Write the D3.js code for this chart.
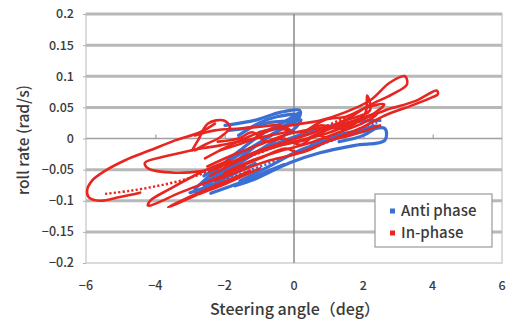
<!DOCTYPE html>
<html><head><meta charset="utf-8">
<script src="https://cdn.jsdelivr.net/npm/d3@7"></script>
<style>html,body{margin:0;padding:0;background:#fff;}svg{display:block;}</style>
</head><body>
<svg id="chart" width="508" height="322"></svg>
<script>
// ---- data (steering angle deg, roll rate rad/s) ----
const xTicks = [-6, -4, -2, 0, 2, 4, 6];
const yTicks = [-0.2, -0.15, -0.1, -0.05, 0, 0.05, 0.1, 0.15, 0.2];
const yTickLabels = ["−0.2", "−0.15", "−0.1", "−0.05", "0", "0.05", "0.1", "0.15", "0.2"];
const xTickLabels = ["−6", "−4", "−2", "0", "2", "4", "6"];
const seriesNames = ["Anti phase", "In-phase"];

const antiPhaseTraces = [
  [[-2.86,-0.081],[-2.28,-0.052],[-1.56,-0.019],[-0.98,0.005],[-0.12,0.032],[0.17,0.042],[0.03,0.029],[-0.69,0.005],[-1.56,-0.032],[-2.28,-0.065],[-2.71,-0.084]],
  [[-1.99,0.021],[-1.07,0.030],[-0.40,0.042],[0.17,0.045],[0.12,0.032],[-0.69,0.026],[-1.41,0.016],[-1.90,0.013]],
  [[-1.56,-0.068],[-0.69,-0.044],[0.17,-0.019],[1.04,-0.003],[1.90,0.010],[2.62,0.016],[2.62,-0.003],[1.76,-0.011],[0.75,-0.023],[-0.12,-0.039],[-1.12,-0.065],[-1.70,-0.076]],
  [[-2.57,-0.071],[-1.85,-0.044],[-0.98,-0.019],[-0.12,0.000],[0.75,0.016],[1.62,0.026],[2.48,0.029]],
  [[-3.00,-0.087],[-2.42,-0.076],[-1.85,-0.060],[-1.12,-0.040]],
  [[-2.60,-0.060],[-2.00,-0.040],[-1.40,-0.020],[-0.80,0.000],[-0.20,0.020],[0.20,0.030],[0.00,0.015],[-0.60,-0.005],[-1.30,-0.030],[-2.00,-0.055],[-2.60,-0.075]],
  [[-2.40,-0.088],[-1.70,-0.074],[-1.00,-0.058],[-0.30,-0.042]],
  [[-1.60,0.005],[-1.00,0.025],[-0.50,0.035],[0.10,0.038],[-0.30,0.020],[-1.00,0.010]],
  [[0.50,-0.010],[1.20,0.005],[1.80,0.012],[2.40,0.020],[2.00,0.005],[1.30,-0.005]]
];
const antiPhaseDotted = [[-2.86,-0.087],[-2.05,-0.068],[-0.98,-0.045],[0.12,-0.023],[1.24,0.000],[1.90,0.016],[2.40,0.026]];

const inPhaseTraces = [
  [[-2.28,0.024],[-2.71,0.010],[-3.43,-0.003],[-4.15,-0.019],[-4.87,-0.035],[-5.45,-0.052],[-5.83,-0.068],[-5.97,-0.084],[-5.91,-0.095],[-5.60,-0.100],[-5.02,-0.094],[-4.44,-0.087]],
  [[-1.85,-0.035],[-2.71,-0.055],[-3.58,-0.081],[-4.15,-0.100],[-4.21,-0.108],[-4.01,-0.105],[-3.29,-0.087],[-2.28,-0.065],[-1.41,-0.044]],
  [[-1.27,-0.052],[-2.28,-0.076],[-3.14,-0.097],[-3.63,-0.110],[-3.52,-0.108],[-2.86,-0.092],[-1.99,-0.073],[-0.98,-0.048]],
  [[-2.71,-0.016],[-3.58,-0.027],[-4.30,-0.039],[-4.21,-0.048],[-3.43,-0.055],[-2.57,-0.052]],
  [[-2.94,-0.019],[-2.77,-0.003],[-2.48,0.024],[-2.02,0.029],[-1.85,0.018],[-2.13,0.002],[-2.57,-0.010],[-2.86,-0.019]],
  [[-2.57,-0.032],[-1.85,-0.011],[-0.98,0.010],[-0.12,0.021],[0.75,0.029],[1.47,0.042],[2.19,0.061],[2.77,0.090],[3.20,0.100],[3.26,0.087],[2.83,0.071],[2.13,0.052],[1.47,0.029],[0.75,0.013],[-0.12,-0.003],[-0.98,-0.019],[-1.85,-0.039],[-2.42,-0.052]],
  [[-2.42,-0.060],[-1.56,-0.035],[-0.69,-0.016],[0.17,-0.003],[1.04,0.010],[1.90,0.029],[2.62,0.045],[3.49,0.060],[4.12,0.077],[4.15,0.071],[3.98,0.066],[3.35,0.052],[2.62,0.037],[1.90,0.016],[1.04,-0.003],[0.17,-0.023],[-0.69,-0.035],[-1.56,-0.052],[-2.28,-0.068]],
  [[-2.13,-0.019],[-1.27,-0.003],[-0.55,0.016],[0.17,0.010],[0.75,0.021],[1.47,0.016],[2.05,0.040],[2.11,0.069],[2.19,0.045],[1.33,0.026],[0.46,0.000],[-0.40,-0.011],[-1.27,-0.027],[-1.99,-0.044]],
  [[-1.85,-0.052],[-0.98,-0.032],[-0.26,-0.016],[0.17,-0.023],[1.04,-0.003],[1.62,0.005],[2.48,0.021]],
  [[-2.86,0.005],[-2.28,0.013],[-1.56,0.016],[-0.98,0.019],[-0.40,0.021],[-0.12,0.013],[-0.69,0.005],[-1.41,-0.003],[-2.13,-0.011],[-2.71,-0.016]],
  [[-2.50,-0.045],[-1.70,-0.025],[-1.00,-0.010],[-0.30,0.005],[0.50,0.015],[1.20,0.020],[1.80,0.030],[2.40,0.040],[2.00,0.025],[1.20,0.008],[0.40,-0.008],[-0.40,-0.020],[-1.20,-0.035],[-2.00,-0.055]],
  [[-2.20,-0.005],[-1.60,0.000],[-1.20,0.010],[-0.80,-0.005],[-0.30,0.000],[0.20,-0.010],[0.60,0.005],[1.00,0.000]],
  [[0.30,0.010],[0.90,0.030],[1.50,0.035],[2.10,0.050],[2.60,0.055],[2.30,0.040],[1.70,0.025],[1.00,0.015],[0.40,0.000]]
];
const inPhaseDotted = [[-5.45,-0.089],[-4.73,-0.084],[-4.01,-0.077],[-3.29,-0.068],[-2.57,-0.055],[-1.85,-0.040],[-0.98,-0.023],[-0.12,-0.003],[0.75,0.016],[1.62,0.037]];

const colors = {anti: "#3b6fd4", inph: "#e8261f"};

// ---- layout ----
const svg = d3.select("#chart");
const L = 86, T = 14, W = 416, H = 249;
const x = d3.scaleLinear().domain([-6, 6]).range([L, L + W]);
const y = d3.scaleLinear().domain([-0.2, 0.2]).range([T + H, T]);
const txtColor = "#3a3a3a";
const font = "'Noto Sans CJK JP', 'Noto Sans', sans-serif";

// plot border
svg.append("rect").attr("x", L).attr("y", T).attr("width", W).attr("height", H)
  .attr("fill", "#fff").attr("stroke", "#cfcfcf").attr("stroke-width", 1.5);

// gridlines
svg.append("g").selectAll("line").data(yTicks.filter(v => v !== 0 && v !== -0.2))
  .join("line").attr("x1", L).attr("x2", L + W)
  .attr("y1", d => y(d)).attr("y2", d => y(d))
  .attr("stroke", "#b8b8b8").attr("stroke-width", 3);

// zero lines
svg.append("line").attr("x1", L).attr("x2", L + W).attr("y1", y(0)).attr("y2", y(0))
  .attr("stroke", "#a0a0a0").attr("stroke-width", 1.5);
svg.append("line").attr("x1", x(0)).attr("x2", x(0)).attr("y1", T).attr("y2", T + H)
  .attr("stroke", "#8a8a8a").attr("stroke-width", 1.5);

// x tick marks on zero line
const xAxis = d3.axisTop(x).tickValues(xTicks.filter(v => v !== 0 && Math.abs(v) !== 6)).tickSize(4).tickFormat("");
svg.append("g").attr("transform", `translate(0,${y(0)})`).call(xAxis)
  .call(g => { g.select(".domain").remove(); g.selectAll("line").attr("stroke", "#a0a0a0").attr("stroke-width", 1.2); });

// y tick marks at left
const yAxis = d3.axisLeft(y).tickValues(yTicks).tickSize(3).tickFormat("");
svg.append("g").attr("transform", `translate(${L},0)`).call(yAxis)
  .call(g => { g.select(".domain").remove(); g.selectAll("line").attr("stroke", "#b0b0b0"); });

// tick labels
svg.append("g").selectAll("text").data(yTicks).join("text")
  .attr("x", 74).attr("y", d => y(d)).attr("dy", "0.35em")
  .attr("text-anchor", "end").attr("font-family", font).attr("font-size", 12.5)
  .attr("font-weight", 500).attr("fill", txtColor)
  .text((d, i) => yTickLabels[i]);
svg.append("g").selectAll("text").data(xTicks).join("text")
  .attr("x", d => x(d)).attr("y", 286).attr("dy", "0.35em")
  .attr("text-anchor", "middle").attr("font-family", font).attr("font-size", 12.5)
  .attr("font-weight", 500).attr("fill", txtColor)
  .text((d, i) => xTickLabels[i]);

// axis titles
svg.append("text").attr("x", 295).attr("y", 309).attr("dy", "0.35em")
  .attr("text-anchor", "middle").attr("font-family", font).attr("font-size", 16)
  .attr("font-weight", 500).attr("fill", txtColor).text("Steering angle（deg）");
svg.append("text").attr("transform", "translate(24,140) rotate(-90)").attr("dy", "0.35em")
  .attr("text-anchor", "middle").attr("font-family", font).attr("font-size", 15.5)
  .attr("font-weight", 500).attr("fill", txtColor).text("roll rate (rad/s)");

// data
const line = d3.line().x(d => x(d[0])).y(d => y(d[1])).curve(d3.curveCatmullRom.alpha(0.5));
const plot = svg.append("g");
plot.selectAll("path.anti").data(antiPhaseTraces).join("path").attr("class", "anti")
  .attr("d", line).attr("fill", "none").attr("stroke", colors.anti).attr("stroke-width", 3.2)
  .attr("stroke-linejoin", "round").attr("stroke-linecap", "round");
plot.append("path").datum(antiPhaseDotted).attr("d", line).attr("fill", "none")
  .attr("stroke", colors.anti).attr("stroke-width", 2.6).attr("stroke-dasharray", "2.2,2.2");
plot.selectAll("path.inph").data(inPhaseTraces).join("path").attr("class", "inph")
  .attr("d", line).attr("fill", "none").attr("stroke", colors.inph).attr("stroke-width", 2.6)
  .attr("stroke-linejoin", "round").attr("stroke-linecap", "round");
plot.append("path").datum(inPhaseDotted).attr("d", line).attr("fill", "none")
  .attr("stroke", colors.inph).attr("stroke-width", 2.4).attr("stroke-dasharray", "2.2,2.2");

// legend
const lg = svg.append("g").attr("transform", "translate(375,194)");
lg.append("rect").attr("width", 117).attr("height", 53).attr("fill", "#fff")
  .attr("stroke", "#9a9a9a").attr("stroke-width", 1.2);
const items = [{n: seriesNames[0], c: colors.anti}, {n: seriesNames[1], c: colors.inph}];
items.forEach((it, i) => {
  const cy = 17 + i * 22;
  lg.append("rect").attr("x", 15).attr("y", cy - 2.5).attr("width", 5).attr("height", 5).attr("fill", it.c);
  lg.append("text").attr("x", 26).attr("y", cy).attr("dy", "0.35em")
    .attr("font-family", font).attr("font-size", 15).attr("font-weight", 500)
    .attr("fill", txtColor).text(it.n);
});
</script>
</body></html>
